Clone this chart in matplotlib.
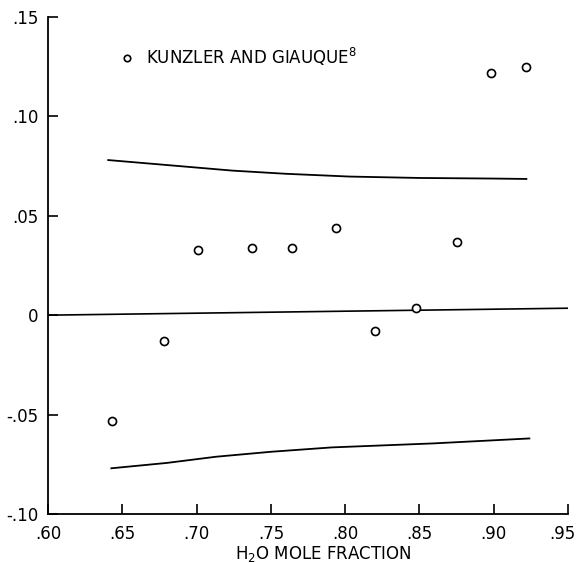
"""
Deviation plot vs H2O mole fraction, with Kunzler and Giauque points
"""

import matplotlib
matplotlib.use("Agg")
import matplotlib.pyplot as plt
import matplotlib.transforms as mtransforms

# measured points (Kunzler and Giauque)
x_pts = [0.643, 0.678, 0.701, 0.737, 0.764, 0.794, 0.820, 0.848, 0.875, 0.898, 0.922]
y_pts = [-0.053, -0.013, 0.033, 0.034, 0.034, 0.044, -0.008, 0.0035, 0.037, 0.122, 0.125]

# upper and lower bound curves
upper_x = [0.6405, 0.68, 0.724, 0.76, 0.803, 0.85, 0.90, 0.922]
upper_y = [0.078, 0.0755, 0.0727, 0.0711, 0.0697, 0.069, 0.0687, 0.0685]
lower_x = [0.6426, 0.68, 0.713, 0.75, 0.791, 0.859, 0.924]
lower_y = [-0.077, -0.0743, -0.0712, -0.0687, -0.0665, -0.0645, -0.062]

# zero line
zero_x = [0.60, 0.95]
zero_y = [0.0, 0.0035]

x_ticks = [0.60, 0.65, 0.70, 0.75, 0.80, 0.85, 0.90, 0.95]
x_labels = [".60", ".65", ".70", ".75", ".80", ".85", ".90", ".95"]
y_ticks = [-0.10, -0.05, 0.0, 0.05, 0.10, 0.15]
y_labels = ["-.10", "-.05", "0", ".05", ".10", ".15"]

plt.rcParams["font.family"] = ["DejaVu Sans"]

fig = plt.figure(figsize=(5.79, 5.63), dpi=100)
ax = fig.add_axes([0.083, 0.087, 0.898, 0.883])

ax.plot(upper_x, upper_y, color="black", lw=1.3)
ax.plot(lower_x, lower_y, color="black", lw=1.3)
ax.plot(zero_x, zero_y, color="black", lw=1.2)
ax.plot(x_pts, y_pts, linestyle="none", marker="o", ms=5.8,
        mfc="white", mec="black", mew=1.2, label="KUNZLER AND GIAUQUE$^{8}$")

ax.legend(loc="upper left", bbox_to_anchor=(0.13, 0.955), frameon=False,
          handlelength=0.6, handletextpad=0.8, borderaxespad=0, fontsize=12,
          markerscale=0.8)

ax.set_xlim(0.60, 0.95)
ax.set_ylim(-0.10, 0.15)
ax.set_xticks(x_ticks)
ax.set_xticklabels(x_labels)
ax.set_yticks(y_ticks)
ax.set_yticklabels(y_labels)

ax.spines["top"].set_visible(False)
ax.spines["right"].set_visible(False)
for s in ["left", "bottom"]:
    ax.spines[s].set_linewidth(1.3)

ax.tick_params(axis="both", direction="in", length=7, width=1.2,
               labelsize=12)
ax.tick_params(axis="x", pad=8)
ax.tick_params(axis="y", pad=7)

# keep the last x label inside the figure
last = ax.get_xticklabels()[-1]
last.set_transform(last.get_transform() +
                   mtransforms.ScaledTranslation(-6 / 100, 0, fig.dpi_scale_trans))

ax.set_xlabel("H$_2$O MOLE FRACTION", fontsize=12)
ax.xaxis.set_label_coords(0.53, -0.06)

fig.savefig("out.png", dpi=100)
